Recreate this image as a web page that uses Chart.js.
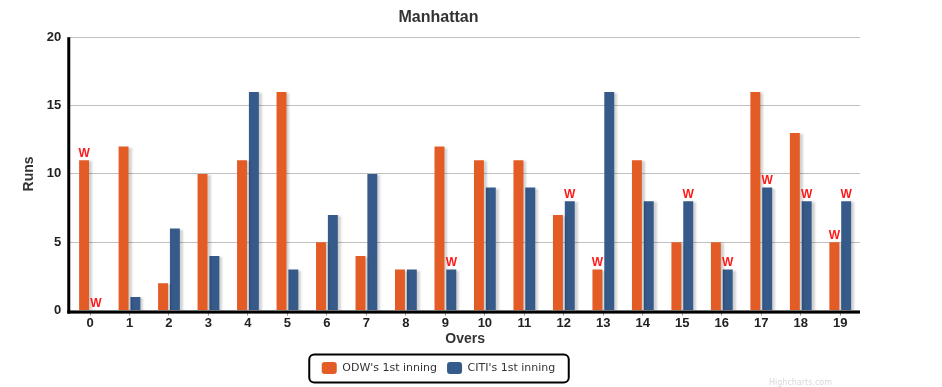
<!DOCTYPE html>
<html>
<head>
<meta charset="utf-8">
<script src="https://cdn.jsdelivr.net/npm/chart.js@4.4.1/dist/chart.umd.min.js"></script>
<style>
  html, body { margin:0; padding:0; background:#fff; }
  #wrap { width:942px; height:387px; position:relative; }
  #credit { position:absolute; right:110px; bottom:0px; font:8px Verdana, "DejaVu Sans", sans-serif; color:#d8d8d8; }
</style>
</head>
<body>
<div id="wrap"><canvas id="manhattan" width="942" height="387"></canvas><div id="credit">Highcharts.com</div></div>
<script>
// Manhattan — runs per over, two innings side by side

const overs = ['0','1','2','3','4','5','6','7','8','9','10','11','12','13','14','15','16','17','18','19'];
const odwRuns  = [11,12,2,10,11,16,5,4,3,12,11,11,7,3,11,5,5,16,13,5];
const citiRuns = [0,1,6,4,16,3,7,10,3,3,9,9,8,16,8,8,3,9,8,8];
// overs in which a wicket fell
const odwWickets  = [0,13,19];
const citiWickets = [0,9,12,15,16,17,18,19];
const yTicks = [0,5,10,15,20];

const ORANGE = '#e35c26', BLUE = '#365a8a';
const FONT = 'Arial, "Liberation Sans", sans-serif';

// soft grey shadow to the right of each bar
const barShadow = {
  id:'barShadow',
  beforeDatasetsDraw(chart){
    const c = chart.ctx; c.save();
    c.shadowColor='rgba(0,0,0,0.18)'; c.shadowOffsetX=3; c.shadowOffsetY=1; c.shadowBlur=2;
  },
  afterDatasetsDraw(chart){ chart.ctx.restore(); }
};

// red "W" above the bar for overs with a wicket
const wicketMarks = {
  id:'wicketMarks',
  afterDatasetsDraw(chart){
    const c = chart.ctx;
    c.save();
    c.fillStyle='#ff1a1a'; c.font='bold 12px '+FONT; c.textAlign='center'; c.textBaseline='bottom';
    [odwWickets, citiWickets].forEach((list,di)=>{
      const meta = chart.getDatasetMeta(di);
      list.forEach(i=>{ const b = meta.data[i]; c.fillText('W', b.x, b.y-1); });
    });
    c.restore();
  }
};

// thick black axis lines + rounded box round the legend items
const frame = {
  id:'frame',
  afterDraw(chart){
    const c = chart.ctx, a = chart.chartArea;
    c.save();
    c.fillStyle='#000';
    c.fillRect(a.left-3, a.top, 3, a.bottom-a.top+3);
    c.fillRect(a.left-3, a.bottom, a.right-a.left+3, 3);
    const hb = chart.legend.legendHitBoxes;
    if (hb && hb.length){
      const l = Math.min(...hb.map(h=>h.left)) - 13;
      const r = Math.max(...hb.map(h=>h.left+h.width)) + 13;
      const t = Math.min(...hb.map(h=>h.top)) - 8;
      const b = Math.max(...hb.map(h=>h.top+h.height)) + 8;
      c.strokeStyle='#000'; c.lineWidth=2;
      c.beginPath(); c.roundRect(l+0.5, t+0.5, r-l, b-t, 5); c.stroke();
    }
    c.restore();
  }
};

new Chart(document.getElementById('manhattan').getContext('2d'), {
  type:'bar',
  data:{
    labels: overs,
    datasets:[
      { label:"ODW's 1st inning", data: odwRuns, backgroundColor: ORANGE },
      { label:"CITI's 1st inning", data: citiRuns, backgroundColor: BLUE }
    ]
  },
  options:{
    responsive:false,
    animation:false,
    categoryPercentage:0.6,
    barPercentage:0.84,
    layout:{ padding:{ left:17, right:82, top:0, bottom:3 } },
    plugins:{
      title:{ display:true, text:'Manhattan', color:'#333', font:{ family:FONT, size:16, weight:'bold' }, padding:{ top:8, bottom:10 } },
      legend:{
        position:'bottom',
        labels:{ color:'#333', font:{ family:'Verdana, "DejaVu Sans", sans-serif', size:11 }, boxWidth:15, boxHeight:12, padding:10, useBorderRadius:true, borderRadius:3 }
      },
      tooltip:{ enabled:false }
    },
    scales:{
      x:{
        grid:{ display:true, drawOnChartArea:false, drawTicks:true, offset:false, tickLength:5, color:'#999' },
        border:{ display:false },
        ticks:{ color:'#222', font:{ family:FONT, size:13, weight:'bold' }, padding:0 },
        title:{ display:true, text:'Overs', color:'#333', font:{ family:FONT, size:14, weight:'bold' }, padding:{ top:0, bottom:4 } }
      },
      y:{
        min:0, max:20,
        afterBuildTicks(ax){ ax.ticks = yTicks.map(v=>({ value:v })); },
        grid:{ color:'#c0c0c0', drawTicks:false },
        border:{ display:false },
        ticks:{ color:'#222', font:{ family:FONT, size:13, weight:'bold' }, padding:9 },
        title:{ display:true, text:'Runs', color:'#333', font:{ family:FONT, size:14, weight:'bold' }, padding:{ top:4, bottom:0 } }
      }
    }
  },
  plugins:[barShadow, wicketMarks, frame]
});
</script>
</body>
</html>
